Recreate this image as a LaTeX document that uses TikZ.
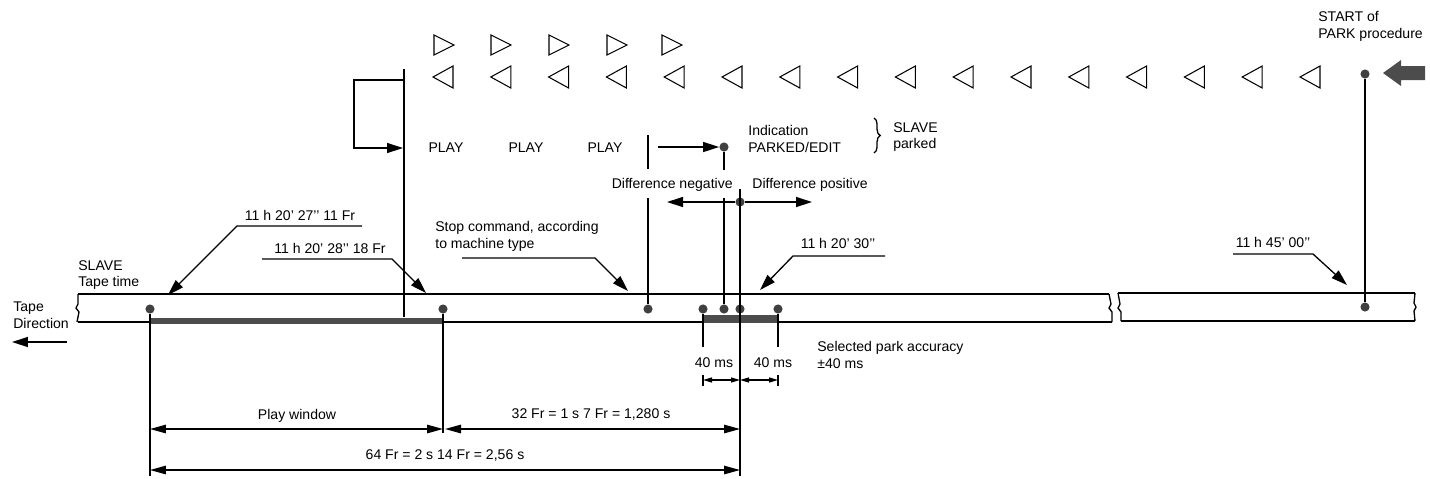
\documentclass[tikz,border=0pt]{standalone}
\usepackage{fontspec}
\setmainfont{Liberation Sans}
\usetikzlibrary{arrows.meta,decorations.pathreplacing}

\begin{document}
\begin{tikzpicture}[
  x=0.02cm, y=-0.02cm,
  lbl/.style  = {inner sep=0pt, font=\fontsize{8}{9.6}\selectfont, align=left},
  wire/.style = {line width=0.75pt},
  tape/.style = {line width=1.5pt},
  tri/.style  = {draw, line width=0.6pt, line join=miter},
  pin/.style  = {circle, fill=black!75, inner sep=0pt, minimum size=5.2pt},
  lead/.style = {wire, -{Triangle[length=0.32cm,width=0.2cm]}},
  dim/.style  = {wire, {Triangle[length=0.32cm,width=0.17cm]}-{Triangle[length=0.32cm,width=0.17cm]}},
  sdim/.style = {wire, {Triangle[length=0.18cm,width=0.1cm]}-{Triangle[length=0.18cm,width=0.1cm]}}
]
  \useasboundingbox (0,0) rectangle (1430,478);

  % Triangulos
  \foreach \x in {444,501,559,617,672}
    \draw[tri] (\x-10,35) -- (\x+10,45) -- (\x-10,55) -- cycle;
  \foreach \k in {0,...,15}
    \draw[tri] ({453+57.8*\k},66) -- ({433+57.8*\k},77) -- ({453+57.8*\k},88) -- cycle;

  % Inicio do PARK
  \node[lbl, anchor=north west] (start) at (1318,11) {START of\\PARK procedure};
  \node[pin] (st) at (1365,74) {};
  \fill[black!70] (1383,73) -- (1401,60) -- (1401,66) -- (1425,66)
        -- (1425,80) -- (1401,80) -- (1401,86) -- cycle;

  % Fita
  \draw[tape] (78,294) -- (1109,294);
  \draw[wire, line width=1.1pt] (78,322) -- (1112,322);
  \draw[tape] (1118,293) -- (1415,293);
  \draw[wire, line width=1.1pt] (1121,321) -- (1415,321);
  \draw[wire] (78,294) -- (78,304) -- (76,308) -- (79,312) -- (77,322);
  \draw[wire] (1109,294) -- (1111,304) -- (1109,308) -- (1112,312) -- (1112,322);
  \draw[wire] (1118,293) -- (1120,304) -- (1118,308) -- (1121,312) -- (1121,321);
  \draw[wire] (1415,293) -- (1414,303) -- (1416,307) -- (1414,311) -- (1415,321);
  \fill[black!70] (150,318) rectangle (443,324);
  \fill[black!70] (703,315) rectangle (778,323);

  % Pontos na fita
  \node[pin] (t1) at (150,309) {};
  \node[pin] (t2) at (443,309) {};
  \node[pin] (t3) at (648,309) {};
  \node[pin] (t4) at (703,309) {};
  \node[pin] (t5) at (724,309) {};
  \node[pin] (t6) at (740,309) {};
  \node[pin] (t7) at (778,309) {};
  \node[pin] (t8) at (1365,307) {};

  % Linha de PLAY
  \coordinate (v0) at (404,69);
  \coordinate (v1) at (404,317);
  \coordinate (e1) at (404,80);
  \coordinate (e2) at (354,148);
  \coordinate (e3) at (403,148);
  \draw[wire] (v0) -- (v1);
  \draw[lead] (e1) -| (e2) -- (e3);
  \node[lbl] (P1) at (446,148) {PLAY};
  \node[lbl] (P2) at (526,148) {PLAY};
  \node[lbl] (P3) at (605,148) {PLAY};

  \coordinate (s0) at (648,135);
  \coordinate (s1) at (648,169);
  \coordinate (s2) at (648,198);
  \draw[wire] (s0) -- (s1);
  \draw[wire] (s2) -- (t3);
  \coordinate (a0) at (658,147);
  \node[pin] (ip) at (724,147) {};
  \coordinate (ip1) at (724,170);
  \coordinate (ip2) at (724,198);
  \draw[lead] (a0) -- (ip);
  \draw[wire] (ip) -- (ip1);
  \draw[wire] (ip2) -- (t5);
  \draw[wire] (st) -- (t8);

  \node[lbl, anchor=west] (ind) at (748,139) {Indication\\PARKED/EDIT};
  \coordinate (br0) at (874,118);
  \coordinate (br1) at (874,153);
  \draw[wire, decorate, decoration={brace, amplitude=3.5pt}] (br0) -- (br1);
  \node[lbl, anchor=west] (slv) at (893,137) {SLAVE\\parked};

  % Diferenca
  \node[lbl, anchor=east] (dneg) at (733,185) {Difference negative};
  \node[lbl, anchor=west] (dpos) at (752,185) {Difference positive};
  \node[pin] (dp) at (740,202) {};
  \coordinate (dl) at (667,202);
  \coordinate (dr) at (812,202);
  \coordinate (dt) at (740,189);
  \coordinate (db) at (740,476);
  \draw[lead] (dp) -- (dl);
  \draw[lead] (dp) -- (dr);
  \draw[wire] (dt) -- (db);

  % Etiquetas com setas
  \node[lbl] (l27) at (300,215) {11 h 20' 27'{}' 11 Fr};
  \coordinate (l27a) at (362,226);
  \coordinate (l27b) at (237,226);
  \coordinate (l27c) at (168,295);
  \draw[lead] (l27a) -- (l27b) -- (l27c);

  \node[lbl] (l28) at (330,248) {11 h 20' 28'{}' 18 Fr};
  \coordinate (l28a) at (262,259);
  \coordinate (l28b) at (392,259);
  \coordinate (l28c) at (426,293);
  \draw[lead] (l28a) -- (l28b) -- (l28c);

  \node[lbl, anchor=west] (stop) at (435,236) {Stop command, according\\to machine type};
  \coordinate (sca) at (462,258);
  \coordinate (scb) at (595,258);
  \coordinate (scc) at (628,291);
  \draw[lead] (sca) -- (scb) -- (scc);

  \node[lbl] (l30) at (838,243) {11 h 20' 30'{}'};
  \coordinate (l30a) at (885,256);
  \coordinate (l30b) at (793,256);
  \coordinate (l30c) at (760,290);
  \draw[lead] (l30a) -- (l30b) -- (l30c);

  \node[lbl] (l45) at (1273,242) {11 h 45' 00'{}'};
  \coordinate (l45a) at (1233,254);
  \coordinate (l45b) at (1313,254);
  \coordinate (l45c) at (1347,285);
  \draw[lead] (l45a) -- (l45b) -- (l45c);

  \node[lbl, anchor=west] (slave) at (78,275) {SLAVE\\Tape time};
  \node[lbl, anchor=west] (dir) at (13,315) {Tape\\Direction};
  \coordinate (da) at (67,342);
  \coordinate (db0) at (12,342);
  \draw[lead] (da) -- (db0);

  % Precisao
  \coordinate (t4b) at (703,347);
  \coordinate (t7b) at (778,347);
  \draw[wire] (t4) -- (t4b);
  \draw[wire] (t7) -- (t7b);
  \coordinate (k1a) at (703,375);
  \coordinate (k1b) at (703,386);
  \coordinate (k2a) at (778,375);
  \coordinate (k2b) at (778,386);
  \draw[wire] (k1a) -- (k1b);
  \draw[wire] (k2a) -- (k2b);
  \coordinate (m1) at (703,380);
  \coordinate (m2) at (740,380);
  \coordinate (m3) at (778,380);
  \draw[sdim] (m1) -- (m2);
  \draw[sdim] (m2) -- (m3);
  \node[lbl] (ms1) at (714,363) {40 ms};
  \node[lbl] (ms2) at (773,363) {40 ms};
  \node[lbl, anchor=west] (sel) at (817,355) {Selected park accuracy\\±40 ms};

  % Cotas
  \coordinate (t1b) at (150,476);
  \coordinate (t2b) at (443,433);
  \draw[wire] (t1) -- (t1b);
  \draw[wire] (t2) -- (t2b);
  \coordinate (w1) at (150,429);
  \coordinate (w2) at (443,429);
  \coordinate (w3) at (445,429);
  \coordinate (w4) at (740,429);
  \coordinate (w5) at (150,470);
  \coordinate (w6) at (740,470);
  \draw[dim] (w1) -- (w2);
  \draw[dim] (w3) -- (w4);
  \draw[dim] (w5) -- (w6);
  \node[lbl] (pw) at (297,416) {Play window};
  \node[lbl] (f32) at (591,414) {32 Fr = 1 s 7 Fr = 1,280 s};
  \node[lbl] (f64) at (445,455) {64 Fr = 2 s 14 Fr = 2,56 s};
\end{tikzpicture}
\end{document}
